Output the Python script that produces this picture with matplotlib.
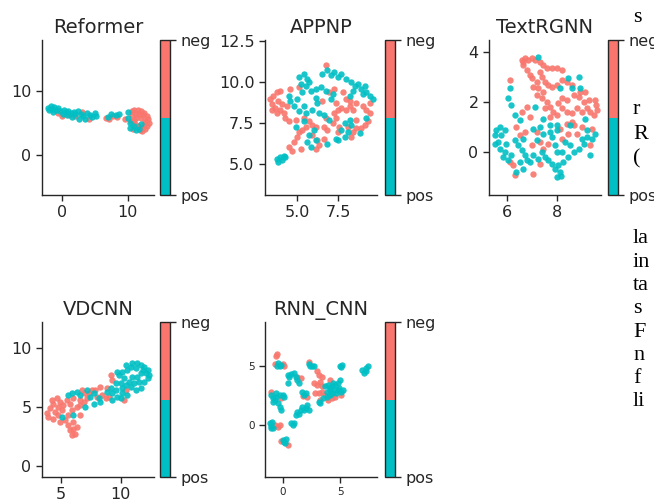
import matplotlib
matplotlib.use('Agg')
import matplotlib.pyplot as plt
import numpy as np
from matplotlib.colors import ListedColormap, Normalize
from matplotlib.cm import ScalarMappable

POS_COLOR = '#00BFC4'
NEG_COLOR = '#F8766D'
INK = '#262626'

titles = ['Reformer', 'APPNP', 'TextRGNN', 'VDCNN', 'RNN_CNN']
class_labels = ['pos', 'neg']

# 2-d embeddings, one list per model and class
reformer_neg = [(0.0, 6.1), (1.0, 6.3), (1.9, 6.1), (3.0, 6.8), (4.1, 5.7), (-0.6, 6.6),
                (6.7, 5.8), (7.2, 5.6), (7.8, 6.1), (8.4, 5.9), (9.6, 5.6),
                (10.6, 6.9), (11.0, 7.0), (11.5, 7.1), (12.0, 6.9), (12.5, 6.6), (12.9, 6.1),
                (13.1, 5.6), (13.2, 5.0), (13.0, 4.5), (12.6, 4.0), (12.2, 3.8), (11.8, 3.9),
                (10.8, 4.1), (10.5, 5.4), (10.7, 6.2), (11.2, 6.5), (11.7, 6.4), (12.3, 6.2),
                (12.6, 5.4), (12.5, 4.7), (12.0, 5.8), (11.3, 5.8), (10.9, 5.5), (11.1, 4.9),
                (12.1, 4.3), (11.6, 4.6), (12.8, 5.2)]
reformer_pos = [(-2.2, 7.4), (-1.8, 7.6), (-1.5, 7.2), (-1.2, 7.5), (-2.0, 7.0), (-1.0, 7.0),
                (-0.6, 7.3), (-1.4, 6.8), (-0.3, 6.9), (0.2, 7.1), (0.5, 6.8), (0.9, 6.9),
                (1.3, 6.6), (0.1, 6.4), (0.7, 6.2), (1.5, 6.0), (2.0, 6.5), (2.4, 6.9),
                (2.8, 6.4), (3.2, 6.1), (2.5, 5.7), (3.8, 6.6), (4.2, 6.2), (4.6, 5.9),
                (5.2, 6.1), (5.0, 6.6), (1.8, 6.8), (3.5, 5.6),
                (7.0, 6.0), (7.4, 6.4), (8.2, 6.2), (8.6, 6.5),
                (10.1, 6.7), (10.3, 5.0), (10.4, 4.3), (11.0, 4.6), (11.7, 4.1), (12.0, 4.8),
                (10.0, 5.8), (11.3, 3.9)]

appnp_neg = [(3.31, 8.94), (3.42, 8.63), (3.52, 9.15), (3.73, 9.36), (3.83, 8.84), (3.63, 8.42),
             (3.94, 8.31), (4.15, 8.10), (4.25, 7.79), (4.46, 7.59), (4.04, 8.63), (3.42, 8.31),
             (3.73, 8.10), (4.35, 8.52), (4.56, 9.56), (3.94, 9.46),
             (4.46, 6.02), (4.77, 6.34), (4.98, 6.65), (5.08, 6.96), (5.29, 7.06), (5.50, 7.27),
             (5.92, 6.75), (6.23, 6.44), (6.33, 6.13), (6.13, 5.92), (6.65, 6.54), (5.92, 7.38),
             (5.19, 5.92), (4.67, 5.81),
             (7.17, 7.48), (7.38, 7.79), (7.27, 8.10), (7.48, 8.31), (7.69, 8.42), (8.0, 8.31),
             (8.21, 8.52), (8.42, 8.31), (8.0, 8.94), (8.21, 8.84), (8.63, 8.73), (9.04, 8.52),
             (9.25, 8.31), (9.46, 8.10), (9.35, 7.59), (9.15, 7.38), (8.94, 7.17), (8.63, 7.17),
             (8.42, 6.96), (8.10, 7.27), (8.63, 7.69), (8.31, 6.65), (7.58, 7.27), (7.48, 6.96),
             (6.75, 7.79), (6.65, 7.27), (6.85, 7.06), (6.96, 9.36), (7.27, 9.56), (6.75, 11.02),
             (6.54, 8.84), (7.38, 8.73), (7.79, 9.36), (4.88, 7.69), (5.40, 7.79), (5.08, 9.67),
             (5.71, 7.59), (6.13, 7.27), (9.46, 8.73)]
appnp_pos = [(3.73, 5.29), (3.94, 5.40), (4.15, 5.50), (3.83, 5.09), (4.04, 5.23), (4.25, 5.40),
             (5.08, 10.29), (5.40, 10.50), (5.60, 10.19), (5.19, 9.88), (5.50, 9.77), (5.71, 9.98),
             (5.81, 9.46), (6.13, 9.56), (6.44, 9.67), (6.54, 10.50), (6.85, 10.71), (7.06, 10.40),
             (7.27, 10.61), (7.48, 10.29), (7.69, 10.50), (8.0, 10.19), (8.31, 9.98), (8.52, 9.77),
             (8.73, 9.88), (8.94, 9.56), (9.15, 9.77), (9.25, 9.36), (9.46, 9.15), (9.67, 8.94),
             (9.04, 9.25), (8.42, 9.46), (8.21, 9.15), (5.29, 9.36), (4.98, 8.94), (4.77, 8.52),
             (5.08, 8.21), (5.40, 8.52), (5.50, 8.10), (5.92, 8.31), (6.23, 8.73), (6.33, 8.10),
             (6.65, 8.0), (6.96, 7.69), (6.75, 9.46), (4.46, 9.15), (4.56, 8.84), (5.40, 7.59),
             (4.88, 7.27), (5.71, 6.75), (6.02, 7.06), (5.60, 6.34), (5.81, 6.02), (6.13, 6.44),
             (6.85, 6.23), (7.38, 6.54), (7.69, 7.06), (7.90, 6.65), (8.10, 6.96), (8.21, 7.69),
             (8.31, 7.38), (7.90, 7.48), (8.83, 6.86), (9.25, 7.79), (7.48, 6.44), (7.06, 8.94),
             (7.17, 9.25), (6.13, 9.04)]

textrgnn_neg = [(6.59, 3.68), (6.72, 3.75), (6.85, 3.68), (6.99, 3.75), (7.12, 3.68), (7.32, 3.61),
                (7.45, 3.48), (7.59, 3.35), (7.79, 3.35), (7.99, 3.35), (8.19, 3.28), (6.65, 3.48),
                (6.79, 3.28), (6.92, 3.08), (6.99, 2.95), (7.19, 2.81), (7.39, 3.01), (7.52, 2.81),
                (7.65, 2.68), (7.79, 2.61), (7.99, 2.68), (8.19, 2.88), (8.39, 2.81), (8.59, 2.68),
                (6.12, 2.88), (7.05, 2.61), (7.32, 3.21), (6.65, 3.61),
                (7.19, 2.28), (7.39, 2.15), (7.59, 2.01), (7.72, 1.81), (7.52, 1.75), (7.85, 1.61),
                (8.05, 1.95), (8.19, 2.15), (8.39, 2.08), (8.65, 2.28), (8.85, 2.21), (9.05, 2.01),
                (9.25, 2.08), (9.19, 1.75), (9.32, 1.61), (9.45, 1.48), (8.99, 1.61), (8.79, 1.75),
                (8.59, 1.55), (8.39, 1.61), (8.19, 1.75), (7.45, 2.41), (7.25, 2.55), (8.92, 2.41),
                (9.12, 2.41), (8.65, 1.08), (8.45, 0.75), (8.79, 0.75), (7.99, 1.48), (7.72, 1.41),
                (6.79, 1.81), (6.59, 1.61), (6.92, 1.41), (6.39, 1.01), (6.52, 0.68), (6.72, 0.81),
                (7.19, 0.81), (7.32, 0.41), (6.99, 0.28), (7.45, 0.15), (7.65, 0.35), (8.12, 0.95),
                (8.19, 0.55), (8.59, 1.21), (9.32, 0.28), (9.39, 0.95), (6.12, -0.39), (6.25, -0.52),
                (6.32, -0.92), (7.05, -0.85), (7.32, -0.45), (8.99, 1.01), (8.39, 1.15),
                (9.52, 2.08), (9.56, 1.88), (9.59, 1.68)]
textrgnn_pos = [(7.25, 3.81), (8.45, 2.95), (8.85, 3.01), (8.59, 2.55), (8.12, 2.55), (7.12, 1.81),
                (8.92, 2.55), (6.12, 2.55), (6.19, 1.88), (6.05, 2.15), (6.32, 1.48), (6.52, 1.28),
                (5.72, 1.01), (5.59, 0.88), (5.52, 0.68), (5.79, 0.68), (5.92, 0.88), (5.65, 0.41),
                (5.52, 0.35), (5.72, 0.15), (5.92, 0.01), (5.85, -0.19), (6.05, -0.32), (6.19, -0.12),
                (5.99, 0.35), (6.32, 0.48), (6.45, 0.28), (6.59, 0.08), (6.72, -0.12), (6.79, -0.32),
                (6.92, -0.39), (6.52, -0.39), (6.65, -0.65), (6.39, -0.79), (7.05, -0.12), (7.25, -0.25),
                (7.39, 0.01), (7.52, -0.19), (7.65, -0.32), (7.79, -0.45), (7.92, -0.65), (8.12, -0.79),
                (8.05, -0.52), (8.25, -0.39), (8.45, -0.19), (8.65, 0.01), (8.85, 0.15), (9.05, 0.35),
                (8.99, 0.55), (9.19, 0.61), (9.39, 0.55), (9.52, 0.75), (9.32, -0.12), (8.52, 0.28),
                (8.32, 0.41), (7.92, 0.28), (7.72, 0.81), (7.79, 0.61), (7.45, 0.75), (7.32, 1.01),
                (7.05, 0.95), (6.65, 0.55), (7.45, 1.35), (7.72, 1.08), (7.99, 1.08), (7.99, 0.88),
                (8.52, 1.08), (9.12, 1.35), (7.99, 0.01), (8.19, 0.01), (7.19, 0.48), (9.19, 0.88),
                (8.0, -1.0), (8.15, -0.95)]

vdcnn_neg = [(3.78, 4.47), (4.07, 4.89), (4.35, 5.31), (4.21, 5.60), (4.63, 5.74), (4.91, 5.45),
             (4.77, 5.03), (4.49, 4.61), (3.93, 4.18), (4.35, 4.04), (4.77, 4.32), (5.06, 4.75),
             (5.20, 5.17), (5.48, 5.60), (5.34, 3.90), (5.62, 3.48), (5.76, 3.05), (6.04, 3.19),
             (6.19, 2.77), (5.90, 2.63), (6.33, 3.34), (6.04, 3.76), (5.62, 4.32), (5.90, 4.75),
             (6.33, 5.03), (6.61, 5.17), (6.89, 5.45), (7.17, 5.74), (7.32, 6.16), (7.60, 6.44),
             (6.75, 6.44), (7.03, 6.16), (7.88, 6.44), (8.30, 6.73), (8.87, 6.58), (9.15, 7.71),
             (9.29, 7.29), (8.45, 6.02), (8.73, 5.74), (9.01, 5.88), (10.28, 5.60), (10.42, 6.44),
             (8.02, 5.88), (4.91, 3.76), (6.61, 4.32), (6.61, 5.60), (5.76, 5.31), (6.04, 5.74)]
vdcnn_pos = [(5.62, 6.02), (5.90, 6.16), (6.33, 6.30), (6.61, 6.02), (7.17, 6.44), (7.46, 5.88),
             (7.74, 6.16), (8.16, 5.74), (8.30, 5.45), (7.74, 5.31), (7.03, 5.03), (6.04, 4.32),
             (5.06, 4.18), (8.87, 6.30), (9.15, 6.58), (9.29, 6.16), (9.58, 6.44), (9.72, 5.88),
             (10.00, 5.74), (10.14, 6.16), (9.29, 5.60), (10.56, 6.02), (10.42, 6.87), (10.71, 7.15),
             (10.28, 7.43), (9.86, 7.71), (9.72, 8.00), (9.58, 7.01), (10.14, 6.58), (10.85, 6.73),
             (11.13, 7.01), (11.55, 7.15), (11.98, 7.15), (12.26, 7.43), (12.12, 7.86), (11.69, 7.86),
             (11.41, 7.57), (11.27, 8.28), (10.85, 8.42), (10.56, 8.14), (10.99, 8.70), (11.41, 8.70),
             (11.69, 8.56), (11.98, 8.42), (12.26, 8.14), (12.40, 7.71), (11.84, 8.14), (10.42, 8.56),
             (10.14, 8.00), (10.99, 7.57), (11.27, 6.44), (11.69, 6.58), (10.00, 7.01)]

rnncnn_neg = [(-0.46, 6.01), (-0.54, 5.84), (0.02, 5.17), (0.16, 5.00), (-0.68, 5.17), (2.28, 5.28),
              (2.99, 4.52), (3.13, 4.23), (3.41, 4.09), (3.27, 3.67), (2.99, 3.39), (3.13, 2.68),
              (2.85, 2.68), (2.71, 3.53), (3.41, 3.25), (1.29, 4.09), (1.58, 3.95), (3.70, 2.54),
              (3.98, 2.12), (4.26, 2.26), (4.54, 2.40), (3.27, 2.12), (3.41, 2.82), (4.12, 3.81),
              (5.11, 2.54), (1.80, 2.45), (2.09, 2.40), (-0.97, 2.82), (-0.12, 2.26), (-0.68, 0.00),
              (-0.26, 0.00), (-0.40, -0.14), (0.45, -1.70), (-0.12, -1.33)]
rnncnn_pos = [(-0.40, 5.22), (-0.26, 5.00), (-0.46, 4.94), (-0.12, 5.08), (2.28, 5.17), (2.57, 5.00),
              (2.71, 4.94), (2.42, 4.94), (4.97, 5.00), (5.19, 5.08), (5.11, 4.88), (6.94, 4.66),
              (7.23, 4.80), (7.45, 4.94), (7.09, 4.43), (7.28, 4.60), (0.45, 4.23), (0.73, 4.32),
              (1.01, 4.38), (1.15, 4.09), (0.59, 4.04), (0.45, 3.58), (1.29, 3.81), (1.44, 3.58),
              (3.70, 3.25), (3.98, 3.39), (4.26, 3.25), (4.54, 3.39), (4.83, 3.53), (4.97, 3.81),
              (4.91, 3.10), (4.54, 2.96), (4.12, 2.96), (3.84, 2.82), (4.26, 2.68), (4.68, 2.68),
              (5.11, 2.82), (3.84, 2.40), (3.55, 2.26), (4.12, 3.10), (4.40, 3.53), (4.83, 2.96),
              (4.12, 2.54), (5.25, 2.96), (3.13, 1.97), (3.27, 1.83), (1.72, 2.82), (1.86, 2.54),
              (2.00, 2.68), (-0.97, 2.54), (-0.82, 2.26), (-0.68, 2.12), (-0.54, 2.40), (-0.26, 2.54),
              (0.02, 2.54), (0.16, 2.40), (-0.40, 1.83), (-0.26, 1.55), (-0.12, 1.27), (-0.82, 1.97),
              (-0.54, 2.68), (1.29, 1.13), (1.44, 0.93), (1.58, 1.27), (1.72, 1.55), (2.00, 1.41),
              (2.14, 1.69), (2.28, 1.27), (1.86, 1.27), (1.15, 0.84), (0.73, 0.14), (1.01, 0.19),
              (0.87, 0.00), (-1.11, 0.14), (-0.97, -0.09), (-0.82, -0.29), (-1.02, -0.29),
              (-0.91, 0.28), (0.02, -1.27), (0.16, -1.42), (0.31, -1.22), (0.22, -1.56)]

neg_sets = [reformer_neg, appnp_neg, textrgnn_neg, vdcnn_neg, rnncnn_neg]
pos_sets = [reformer_pos, appnp_pos, textrgnn_pos, vdcnn_pos, rnncnn_pos]

x_ticks = [[0, 10], [5.0, 7.5], [6, 8], [5, 10], [0, 5]]
y_ticks = [[0, 10], [5.0, 7.5, 10.0, 12.5], [0, 2, 4], [0, 5, 10], [0, 5]]
x_limits = [(-3.1, 14.0), (3.0, 9.9), (5.3, 9.74), (3.4, 12.8), (-1.53, 8.2)]
y_limits = [(-6.25, 18.0), (3.1, 12.56), (-1.7, 4.48), (-0.9, 12.2), (-4.4, 8.7)]
tick_sizes = [11.5, 11.5, 11.5, 11.5, 7.5]

# right-hand margin: the start of the paper text next to the figure
side_text = ['s', 'r', 'R', '(', 'la', 'in', 'ta', 's', 'F', 'n', 'f', 'li']
side_rows = [22, 114, 139, 163, 243, 267, 290, 313, 337, 360, 383, 406]

W, H = 654, 500
fig = plt.figure(figsize=(W / 100, H / 100), dpi=100)
fig.patch.set_facecolor('white')

ax_left = [42, 265, 489]
cb_left = [160, 385, 608]
row_top = [40, 322]
ax_w, ax_h = 112, 155

cmap = ListedColormap([POS_COLOR, NEG_COLOR])

for i, title in enumerate(titles):
    r, c = divmod(i, 3)
    left = ax_left[c] / W
    bottom = (H - row_top[r] - ax_h) / H
    ax = fig.add_axes([left, bottom, ax_w / W, ax_h / H])
    neg = np.array(neg_sets[i])
    pos = np.array(pos_sets[i])
    ax.scatter(neg[:, 0], neg[:, 1], s=21, c=NEG_COLOR, linewidths=0, alpha=0.9)
    ax.scatter(pos[:, 0], pos[:, 1], s=21, c=POS_COLOR, linewidths=0, alpha=0.9)
    ax.set_xlim(*x_limits[i])
    ax.set_ylim(*y_limits[i])
    ax.set_xticks(x_ticks[i])
    ax.set_yticks(y_ticks[i])
    if i == 1:
        ax.set_xticklabels(['%.1f' % v for v in x_ticks[i]])
        ax.set_yticklabels(['%.1f' % v for v in y_ticks[i]])
    ax.spines['top'].set_visible(False)
    ax.spines['right'].set_visible(False)
    for s in ['left', 'bottom']:
        ax.spines[s].set_color(INK)
        ax.spines[s].set_linewidth(1.0)
    ax.tick_params(labelsize=tick_sizes[i], colors=INK, length=4, width=1)
    ax.set_title(title, fontsize=14, color=INK, pad=5)

    cax = fig.add_axes([cb_left[c] / W, bottom, 10 / W, ax_h / H])
    sm = ScalarMappable(norm=Normalize(0, 1), cmap=cmap)
    cb = fig.colorbar(sm, cax=cax, ticks=[0, 1])
    cb.ax.set_yticklabels(class_labels)
    cb.ax.tick_params(labelsize=11.5, colors=INK, length=4, width=1)
    cb.outline.set_edgecolor(INK)
    cb.outline.set_linewidth(1.0)

for txt, yy in zip(side_text, side_rows):
    fig.text(633 / W, 1 - yy / H, txt, fontsize=16, family='Liberation Serif',
             color='black', ha='left', va='baseline')

plt.savefig('out.png', dpi=100)
